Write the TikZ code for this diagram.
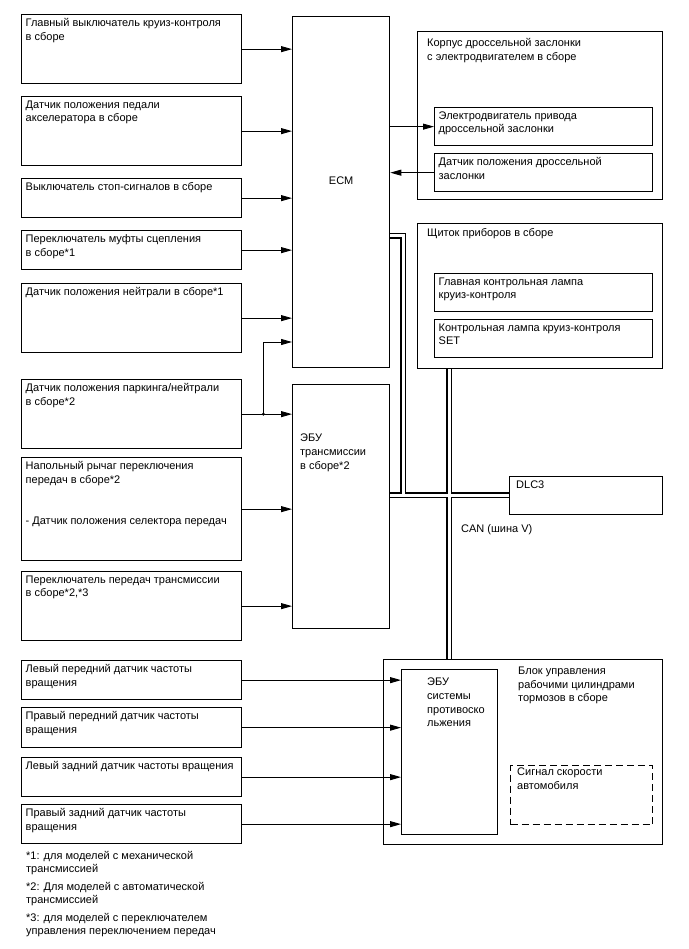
\documentclass[tikz,border=0pt]{standalone}
\usepackage{fontspec}
\setmainfont{Liberation Sans}
\usetikzlibrary{arrows.meta}

\begin{document}
\begin{tikzpicture}[
    x=1pt, y=-1pt,
    every node/.style={font=\fontsize{11}{13.6}\selectfont},
    box/.style={draw, line width=1.3pt, rectangle, anchor=north west, inner sep=0pt},
    lbox/.style={box, minimum width=220pt},
    ibox/.style={box, minimum width=218pt, minimum height=38pt},
    txt/.style={anchor=north west, align=left, inner sep=0pt},
    tl/.style={label={[txt, xshift=4.5pt, yshift=-4.5pt]north west:{#1}}},
    arrow/.style={-{Triangle[length=11pt, width=6pt]}, line width=0.9pt},
    busout/.style={line width=6pt, black},
    busin/.style={line width=3pt, white}
]
    \useasboundingbox (0,0) rectangle (688,949);

    % Inputs on the left
    \node[lbox, minimum height=69pt, tl={Главный выключатель круиз-контроля\\в сборе}] (cruise) at (21,14) {};
    \node[lbox, minimum height=69pt, tl={Датчик положения педали\\акселератора в сборе}] (accel) at (21,96) {};
    \node[lbox, minimum height=39pt, tl={Выключатель стоп-сигналов в сборе}] (stop) at (21,178) {};
    \node[lbox, minimum height=39pt, tl={Переключатель муфты сцепления\\в сборе*1}] (clutch) at (21,230) {};
    \node[lbox, minimum height=69pt, tl={Датчик положения нейтрали в сборе*1}] (neutral) at (21,283) {};
    \node[lbox, minimum height=69pt, tl={Датчик положения паркинга/нейтрали\\в сборе*2}] (pnp) at (21,379) {};
    \node[lbox, minimum height=103pt, tl={Напольный рычаг переключения\\передач в сборе*2\\[27.2pt]- Датчик положения селектора передач}] (shift) at (21,457) {};
    \node[lbox, minimum height=69pt, tl={Переключатель передач трансмиссии\\в сборе*2,*3}] (trswitch) at (21,571) {};
    \node[lbox, minimum height=39pt, tl={Левый передний датчик частоты\\вращения}] (flspd) at (21,660) {};
    \node[lbox, minimum height=40pt, tl={Правый передний датчик частоты\\вращения}] (frspd) at (21,707) {};
    \node[lbox, minimum height=39pt, tl={Левый задний датчик частоты вращения}] (rlspd) at (21,757) {};
    \node[lbox, minimum height=39pt, tl={Правый задний датчик частоты\\вращения}] (rrspd) at (21,804) {};

    % Control units
    \node[box, minimum width=97pt, minimum height=351pt, label={[yshift=11.5pt]center:ECM}] (ECM) at (292,16) {};
    \node[box, minimum width=97pt, minimum height=244pt] (TCM) at (292,384) {};
    \node[txt] (tcmtext) at (300,434) {ЭБУ\\трансмиссии\\в сборе*2};

    % Throttle body
    \node[box, minimum width=245pt, minimum height=168pt] (throttle) at (417,31) {};
    \node[txt] (throttletext) at (427,38.5) {Корпус дроссельной заслонки\\с электродвигателем в сборе};
    \node[ibox, tl={Электродвигатель привода\\дроссельной заслонки}] (motor) at (434,107) {};
    \node[ibox, tl={Датчик положения дроссельной\\заслонки}] (tps) at (434,153) {};

    % Combination meter
    \node[box, minimum width=245pt, minimum height=145pt] (meter) at (417,223) {};
    \node[txt] (metertext) at (427,228) {Щиток приборов в сборе};
    \node[ibox, tl={Главная контрольная лампа\\круиз-контроля}] (mainlamp) at (434,273) {};
    \node[ibox, tl={Контрольная лампа круиз-контроля\\SET}] (setlamp) at (434,319) {};

    % DLC3 and bus label
    \node[box, minimum width=153pt, minimum height=38pt] (DLC3) at (509,476) {};
    \node[txt] (dlctext) at (516,481) {DLC3};
    \node[txt] (cantext) at (461,524) {CAN (шина V)};

    % Brake actuator
    \node[box, minimum width=279pt, minimum height=185pt] (brake) at (383,659) {};
    \node[txt] (braketext) at (518,667) {Блок управления\\рабочими цилиндрами\\тормозов в сборе};
    \node[box, minimum width=96pt, minimum height=165pt] (absecu) at (401,669) {};
    \node[txt] (abstext) at (427,678) {ЭБУ\\системы\\противоско\\льжения};
    \node[box, dashed, dash pattern=on 7pt off 4pt, line width=1.2pt, minimum width=142pt, minimum height=59pt] (vss) at (510,765) {};
    \node[txt] (vsstext) at (517,768) {Сигнал скорости\\автомобиля};

    % Footnotes
    \node[txt] (note1) at (26,851) {*1: для моделей с механической\\трансмиссией};
    \node[txt] (note2) at (26,882) {*2: Для моделей с автоматической\\трансмиссией};
    \node[txt] (note3) at (26,913) {*3: для моделей с переключателем\\управления переключением передач};

    % Signal lines
    \foreach \src in {cruise, accel, stop, clutch, neutral}
        \draw[arrow] (\src.east) -- (\src.east -| ECM.west);
    \foreach \src in {pnp, shift, trswitch}
        \draw[arrow] (\src.east) -- (\src.east -| TCM.west);
    \foreach \src in {flspd, frspd, rlspd, rrspd}
        \draw[arrow] (\src.east) -- (\src.east -| absecu.west);
    \coordinate (pnpjn) at ([xshift=21pt]pnp.east);
    \fill (pnpjn) circle (1.6pt);
    \draw[arrow] (pnpjn) |- (ECM.west |- 0,342);
    \draw[arrow] (ECM.east |- motor.west) -- (motor.west);
    \draw[arrow] (tps.west) -- (tps.west -| ECM.east);

    % CAN bus
    \foreach \sty in {busout, busin} {
        \draw[\sty] (ECM.east |- 0,236) -| (403,495);
        \draw[\sty] (TCM.east |- 0,495) -- (DLC3.west |- 0,495);
        \draw[\sty] (449,0 |- meter.south) -- (449,0 |- brake.north);
    }
\end{tikzpicture}
\end{document}
